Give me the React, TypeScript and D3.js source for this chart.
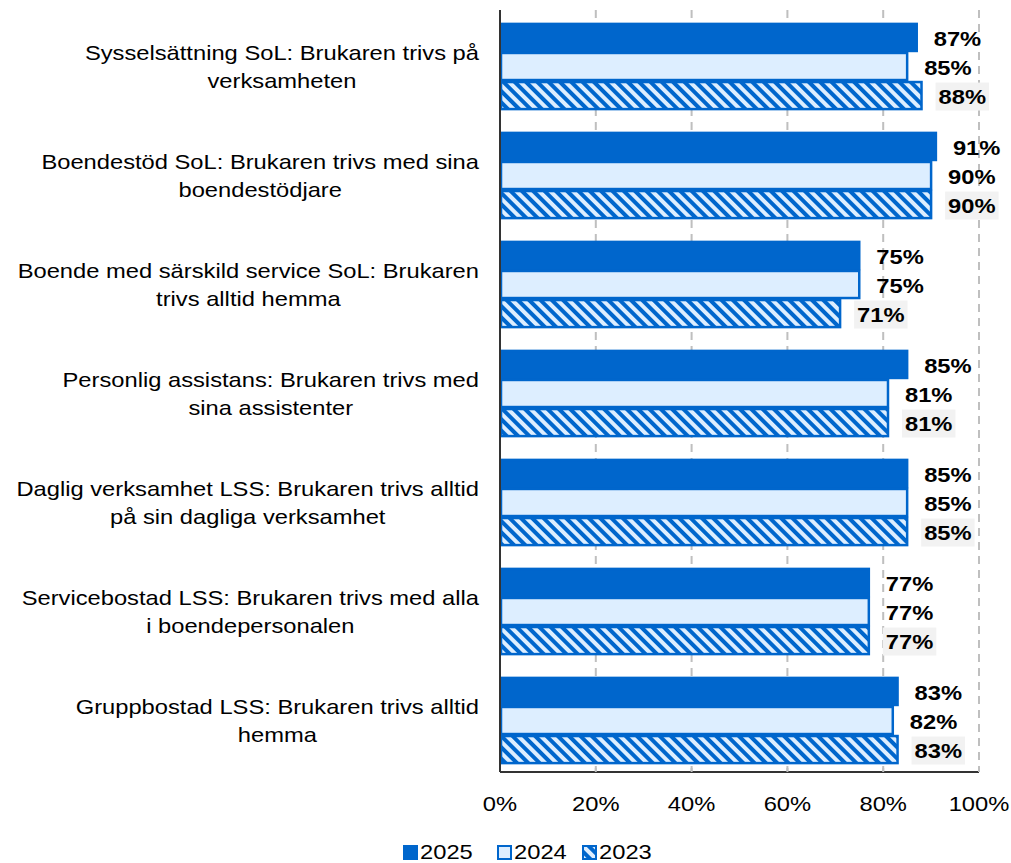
import React, { useEffect, useRef } from "react";
import * as d3 from "d3";

const categories: string[][] = [
  ["Sysselsättning SoL: Brukaren trivs på", "verksamheten"],
  ["Boendestöd SoL: Brukaren trivs med sina", "boendestödjare"],
  ["Boende med särskild service SoL: Brukaren", "trivs alltid hemma"],
  ["Personlig assistans: Brukaren trivs med", "sina assistenter"],
  ["Daglig verksamhet LSS: Brukaren trivs alltid", "på sin dagliga verksamhet"],
  ["Servicebostad LSS: Brukaren trivs med alla", "i boendepersonalen"],
  ["Gruppbostad LSS: Brukaren trivs alltid", "hemma"],
];
const seriesNames = ["2025", "2024", "2023"];
const values2025 = [87, 91, 75, 85, 85, 77, 83];
const values2024 = [85, 90, 75, 81, 85, 77, 82];
const values2023 = [88, 90, 71, 81, 85, 77, 83];
const tickValues = [0, 20, 40, 60, 80, 100];

const BLUE = "#0066CC";
const LIGHT = "#DDEEFF";
const FONT = "'Liberation Sans', Arial, sans-serif";
const SX = 1.13;

export default function App() {
  const ref = useRef<SVGSVGElement>(null);
  useEffect(() => {
    const svg = d3.select(ref.current!);
    svg.selectAll("*").remove();
    const left = 500, right = 979, top = 10, bottom = 772;
    const x = d3.scaleLinear().domain([0, 100]).range([left, right]);
    const y = d3.scaleBand<number>().domain(d3.range(categories.length)).range([12, 775]).paddingInner(0.2).paddingOuter(0.1);
    const sub = d3.scaleBand<number>().domain([0, 1, 2]).range([0, y.bandwidth()]);
    const series = [values2025, values2024, values2023];

    const txt = (g: any, px: number, py: number, s: string, size: number, anchor: string, bold = false) =>
      g.append("text")
        .attr("transform", `translate(${px},${py}) scale(${SX},1)`)
        .attr("dy", "0.36em")
        .attr("text-anchor", anchor)
        .attr("font-family", FONT).attr("font-size", size)
        .attr("font-weight", bold ? "bold" : "normal")
        .attr("fill", "#000").text(s);

    const defs = svg.append("defs");
    const pat = defs.append("pattern").attr("id", "hatch").attr("patternUnits", "userSpaceOnUse")
      .attr("width", 8).attr("height", 8).attr("patternTransform", "rotate(-45)");
    pat.append("rect").attr("width", 8).attr("height", 8).attr("fill", LIGHT);
    pat.append("rect").attr("x", 0).attr("width", 4).attr("height", 8).attr("fill", BLUE);

    // gridlines
    svg.append("g").selectAll("line").data(tickValues.filter(t => t > 0)).join("line")
      .attr("x1", d => x(d)).attr("x2", d => x(d)).attr("y1", top).attr("y2", bottom)
      .attr("stroke", "#BFBFBF").attr("stroke-width", 2).attr("stroke-dasharray", "8,6");

    // bars
    series.forEach((vals, si) => {
      const g = svg.append("g");
      g.selectAll("rect").data(vals).join("rect")
        .attr("x", x(0) + 1)
        .attr("y", (_, i) => y(i)! + sub(si)! + 1)
        .attr("width", d => x(d) - x(0) - 1)
        .attr("height", sub.bandwidth() - 2)
        .attr("fill", si === 0 ? BLUE : si === 1 ? LIGHT : "url(#hatch)")
        .attr("stroke", BLUE).attr("stroke-width", 2.5);
    });

    // labels
    series.forEach((vals, si) => {
      const g = svg.append("g");
      vals.forEach((d, i) => {
        const tx = x(d) + 17;
        const ty = y(i)! + sub(si)! + sub.bandwidth() / 2 + 1;
        const label = `${d}%`;
        let bg: any = null;
        if (si === 2) bg = g.append("rect").attr("fill", "#F2F2F2");
        const t = txt(g, tx, ty, label, 21, "start", true);
        if (bg) {
          const w = (t.node() as SVGTextElement).getComputedTextLength() * SX;
          bg.attr("x", tx - 3).attr("y", ty - 14).attr("width", w + 6).attr("height", 28);
        }
      });
    });

    // axes lines
    svg.append("line").attr("x1", left).attr("x2", left).attr("y1", top).attr("y2", bottom).attr("stroke", "#333").attr("stroke-width", 2);
    svg.append("line").attr("x1", left).attr("x2", right).attr("y1", bottom).attr("y2", bottom).attr("stroke", "#333").attr("stroke-width", 2);
    svg.append("g").selectAll("line").data(tickValues.filter(t => t > 0)).join("line")
      .attr("x1", d => x(d)).attr("x2", d => x(d)).attr("y1", bottom).attr("y2", bottom - 4)
      .attr("stroke", "#BFBFBF").attr("stroke-width", 2);
    const tg = svg.append("g");
    tickValues.forEach(t => txt(tg, x(t), 803, `${t}%`, 21, "middle"));

    // category labels
    const cg = svg.append("g");
    categories.forEach((lines, i) => {
      const cy = y(i)! + y.bandwidth() / 2;
      const nodes = lines.map((l, li) => txt(cg, 0, cy + (li - (lines.length - 1) / 2) * 28, l, 21, "middle"));
      const widths = nodes.map(n => (n.node() as SVGTextElement).getComputedTextLength() * SX);
      const maxW = Math.max(...widths);
      const center = 479 - maxW / 2;
      nodes.forEach((n, li) => n.attr("transform", `translate(${center},${cy + (li - (lines.length - 1) / 2) * 28}) scale(${SX},1)`));
    });

    // legend
    const lg = svg.append("g");
    const legendX = [403, 497, 582];
    seriesNames.forEach((n, i) => {
      const lx = legendX[i];
      lg.append("rect").attr("x", lx + 1).attr("y", 846).attr("width", 13).attr("height", 13)
        .attr("fill", i === 0 ? BLUE : i === 1 ? LIGHT : "url(#hatch)").attr("stroke", BLUE).attr("stroke-width", 2);
      txt(lg, lx + 17, 851, n, 21, "start");
    });
  }, []);
  return <svg ref={ref} width={1011} height={863} style={{ position: "absolute", left: 0, top: 0, background: "#fff" }} />;
}
